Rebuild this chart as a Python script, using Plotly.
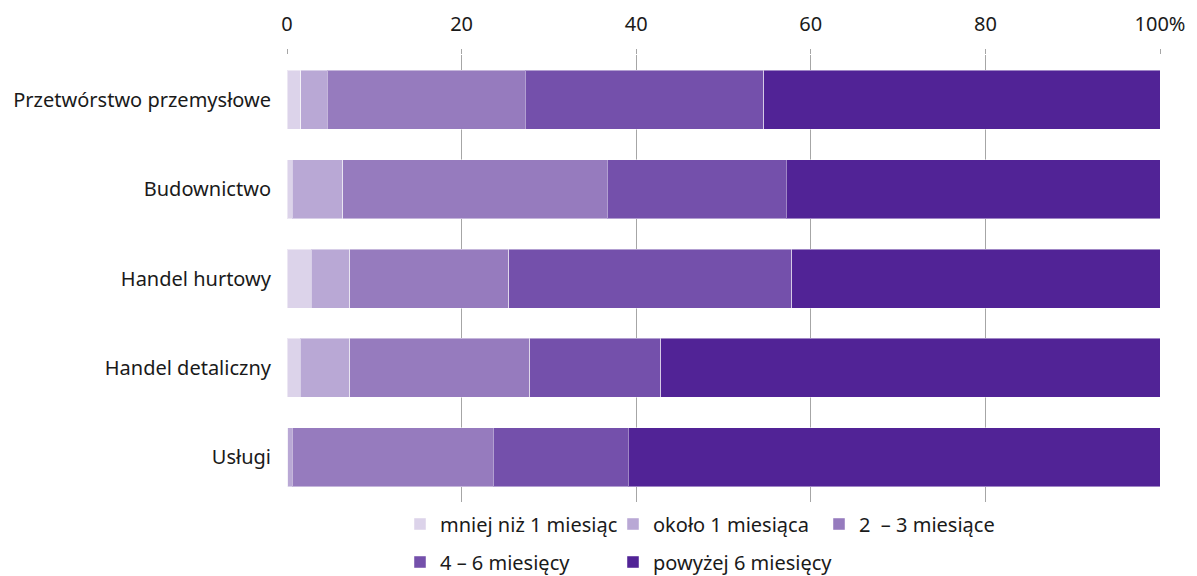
import plotly.graph_objects as go

categories = ["Przetwórstwo przemysłowe", "Budownictwo", "Handel hurtowy", "Handel detaliczny", "Usługi"]
series_names = ["mniej niż 1 miesiąc", "około 1 miesiąca", "2\u00a0 – 3 miesiące", "4 – 6 miesięcy", "powyżej 6 miesięcy"]
s1 = [1.6, 0.6, 2.8, 1.5, 0.1]
s2 = [3.0, 5.8, 4.4, 5.7, 0.5]
s3 = [22.7, 30.3, 18.2, 20.6, 23.0]
s4 = [27.3, 20.5, 32.4, 15.0, 15.5]
s5 = [45.4, 42.8, 42.2, 57.2, 60.9]
tick_vals = [0, 20, 40, 60, 80, 100]
tick_text = ["0", "20", "40", "60", "80", "100%"]

colors = ["#dcd3ea", "#b9a8d5", "#967bbe", "#7450ab", "#512396"]
legend_ids = ["legend", "legend2", "legend3", "legend4", "legend5"]
# legend anchor positions in page pixels (x start, row centre y)
leg_px = [(400, 524), (613, 524), (819, 524), (400, 562), (613, 562)]

# page has an 8px body margin; figure coordinates are page - 8
W, H = 1189, 568
L, R, T, B = 279, 37, 47, 74

FONT = "Noto Sans, sans-serif"
fig = go.Figure()
for name, vals, col, lg in zip(series_names, [s1, s2, s3, s4, s5], colors, legend_ids):
    fig.add_trace(go.Bar(
        y=categories, x=vals, name=name, orientation="h",
        marker=dict(color=col, line=dict(color="rgba(255,255,255,0.45)", width=1)),
        legend=lg, showlegend=True,
    ))

legends = {}
for lg, (px, py) in zip(legend_ids, leg_px):
    fx, fy = px - 8, py - 8
    legends[lg] = dict(
        orientation="h", xref="container", yref="container",
        xanchor="left", yanchor="middle",
        x=fx / W, y=1 - fy / H,
        itemwidth=30, font=dict(size=20), bgcolor="rgba(0,0,0,0)",
    )

fig.update_layout(
    showlegend=True,
    barmode="stack",
    bargap=0.34,
    width=W, height=H,
    margin=dict(l=L, r=R, t=T, b=B, autoexpand=False),
    plot_bgcolor="white", paper_bgcolor="white",
    font=dict(family=FONT, size=20, color="#1a1a1a"),
    xaxis=dict(
        side="top", range=[0, 100], tickvals=tick_vals, ticktext=tick_text,
        showgrid=True, gridcolor="#a6a6a6", gridwidth=1, zeroline=False,
        ticks="outside", ticklen=5, tickcolor="#a6a6a6", showline=False,
        ticklabelstandoff=10, automargin=False,
    ),
    yaxis=dict(
        categoryorder="array", categoryarray=categories, autorange="reversed",
        ticks="", ticklabelstandoff=15, showgrid=False, automargin=False,
    ),
    **legends,
)

fig.write_html("out.html")
